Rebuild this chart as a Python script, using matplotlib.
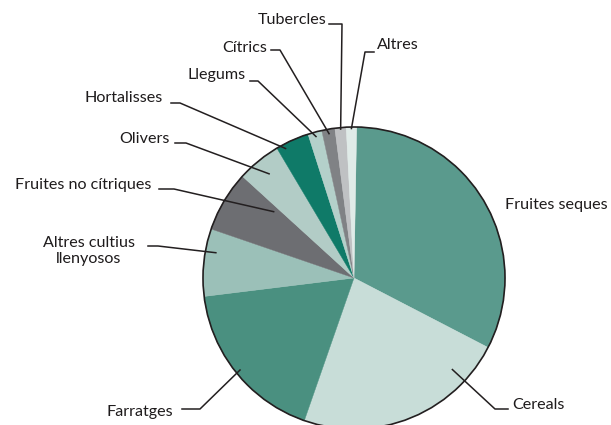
import matplotlib
matplotlib.use('Agg')
import matplotlib.pyplot as plt
import numpy as np

plt.rcParams['font.family'] = ['Lato', 'DejaVu Sans']

# dades (percentatge de superficie)
labels = ['Fruites seques', 'Cereals', 'Farratges', 'Altres cultius\nllenyosos',
          'Fruites no cítriques', 'Olivers', 'Hortalisses', 'Llegums',
          'Cítrics', 'Tubercles', 'Altres']
values = [32.3, 22.7, 17.7, 7.2, 6.5, 4.7, 3.6, 1.5, 1.4, 1.2, 1.1]
colors = ['#5a9a8d', '#c8ddd8', '#4a9080', '#9bc0b8', '#6d6e72', '#b2ccc6',
          '#0f7a68', '#b4d0ca', '#808285', '#bfc1c3', '#e0ebe8']

W, H = 611, 425
cx, cy, R = 354, 278, 151
start = 89

# posicio de les etiquetes (pixels, y cap avall): text, alineacio, tram horitzontal, punta (fraccio angle, fraccio radi)
layout = [
    ((608, 205), 'right', None, None),
    ((512, 405), 'left', [(508, 409), (495, 409)], (0.19, 0.89)),
    ((173, 412), 'right', [(182, 409), (200, 409)], (0.5, 0.97)),
    ((89, 251), 'center', [(148, 246), (158, 246)], (0.67, 0.93)),
    ((151, 185), 'right', [(159, 189), (174, 189)], (0.88, 0.69)),
    ((170, 139), 'right', [(175, 143), (186, 143)], (0.5, 0.89)),
    ((163, 98), 'right', [(171, 103), (180, 103)], (0.22, 0.97)),
    ((246, 75), 'right', [(250, 81), (258, 81)], (0.5, 0.97)),
    ((267, 48), 'right', [(271, 50), (280, 50)], (0.5, 0.97)),
    ((327, 20), 'right', [(329, 24), (342, 24)], (0.5, 0.99)),
    ((377, 45), 'left', [(374, 52), (365, 52)], (0.5, 0.99)),
]

fig = plt.figure(figsize=(W / 100, H / 100), dpi=100)
ax = fig.add_axes([0, 0, 1, 1])

wedges, _ = ax.pie(values, colors=colors, startangle=start, counterclock=False,
                   center=(cx, H - cy), radius=R)
for w, c in zip(wedges, colors):
    w.set_edgecolor(c)
    w.set_linewidth(0.3)
ax.add_patch(plt.Circle((cx, H - cy), R, fill=False, edgecolor='#231f20', linewidth=1.2))

total = sum(values)
cum = np.concatenate([[0], np.cumsum(values)])
for i, (lab, lay) in enumerate(zip(labels, layout)):
    (tx, ty), ha, seg, tip = lay
    ax.text(tx, H - ty, lab, ha=ha, va='center', fontsize=11.6, color='#1e1b1c',
            linespacing=1.1)
    if seg is None:
        continue
    f, rf = tip
    ang = np.radians(start - 360 * (cum[i] + f * values[i]) / total)
    px = cx + rf * R * np.cos(ang)
    py = H - cy + rf * R * np.sin(ang)
    xs = [p[0] for p in seg] + [px]
    ys = [H - p[1] for p in seg] + [py]
    ax.plot(xs, ys, color='#231f20', linewidth=1.1)

ax.set_xlim(0, W)
ax.set_ylim(0, H)
ax.axis('off')

plt.savefig('out.png', dpi=100)
